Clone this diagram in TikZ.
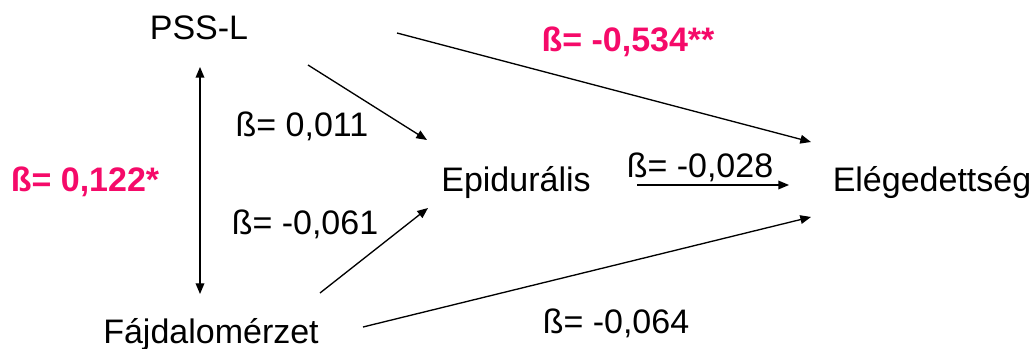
\documentclass[tikz,border=0pt]{standalone}
\usepackage{fontspec}
\setmainfont{Liberation Sans}
\usetikzlibrary{arrows.meta}
\definecolor{sig}{RGB}{245,10,105}
\begin{document}
\begin{tikzpicture}[x=0.75pt,y=-0.75pt,
  lbl/.style={inner sep=0pt,anchor=base,font=\fontsize{25.5pt}{30pt}\selectfont},
  siglbl/.style={lbl,font=\fontsize{25.5pt}{30pt}\selectfont\bfseries,text=sig},
  conn/.style={line width=1pt,-{Triangle[length=8pt,width=6.5pt]}},
  dconn/.style={line width=1pt,{Triangle[length=8pt,width=6.5pt]}-{Triangle[length=8pt,width=6.5pt]}}]
\useasboundingbox (0,0) rectangle (1036,349);
% variables
\node[lbl] (pss) at (199,40) {PSS-L};
\node[lbl] (faj) at (211,343) {Fájdalomérzet};
\node[lbl] (epi) at (516,192) {Epidurális};
\node[lbl] (ele) at (932,192) {Elégedettség};
% coefficient labels
\node[siglbl] (b122) at (85,192) {ß= 0,122*};
\node[lbl] (b011) at (302,137) {ß= 0,011};
\node[lbl] (b061) at (305,235) {ß= -0,061};
\node[siglbl] (b534) at (628,52) {ß= -0,534**};
\node[lbl] (b028) at (700,178) {ß= -0,028};
\node[lbl] (b064) at (616,333) {ß= -0,064};
% connector end points
\coordinate (pssS) at (200,67);
\coordinate (fajN) at (200,294);
\coordinate (pssE1) at (308,65);
\coordinate (epiNW) at (427,140);
\coordinate (fajE1) at (320,293);
\coordinate (epiSW) at (428,208);
\coordinate (pssE2) at (397,33);
\coordinate (eleNW) at (811,142);
\coordinate (epiE) at (637,185);
\coordinate (eleW) at (789,185);
\coordinate (fajE2) at (363,327);
\coordinate (eleSW) at (811,217);
% connectors
\draw[dconn] (pssS) -- (fajN);
\draw[conn] (pssE1) -- (epiNW);
\draw[conn] (fajE1) -- (epiSW);
\draw[conn] (pssE2) -- (eleNW);
\draw[conn] (epiE) -- (eleW);
\draw[conn] (fajE2) -- (eleSW);
\end{tikzpicture}
\end{document}
